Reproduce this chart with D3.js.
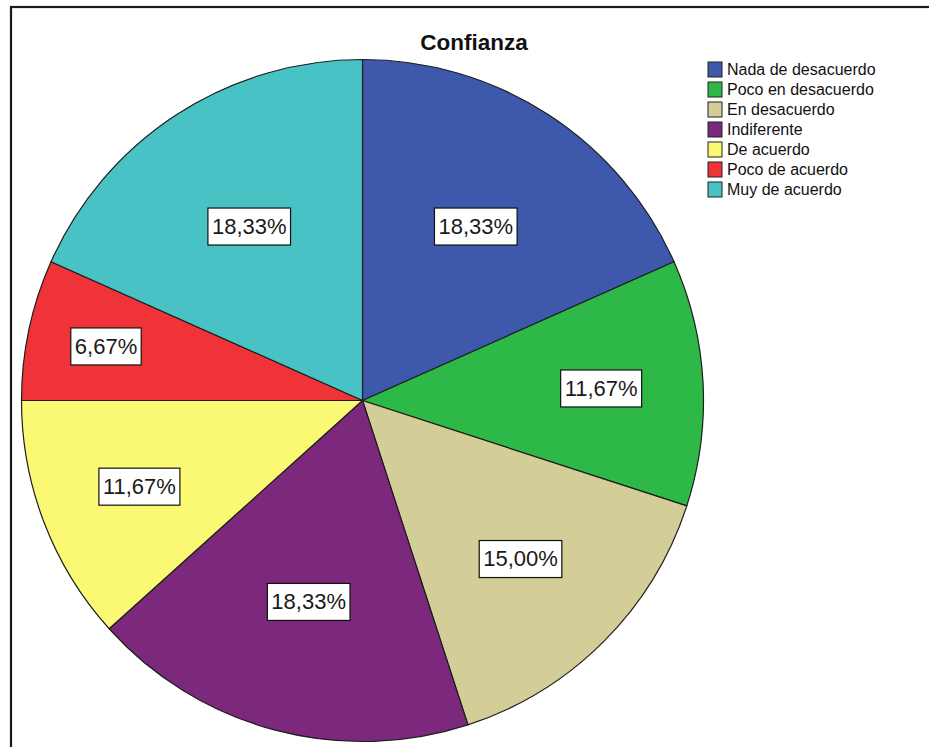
<!DOCTYPE html>
<html>
<head>
<meta charset="utf-8">
<script src="https://cdn.jsdelivr.net/npm/d3@7"></script>
<style>
  html, body { margin: 0; padding: 0; background: #fff; }
  svg { display: block; font-family: Arial, "Liberation Sans", sans-serif; }
</style>
</head>
<body>
<svg id="chart" width="929" height="747"></svg>
<script>
// Survey responses for "Confianza"
const categories = ["Nada de desacuerdo", "Poco en desacuerdo", "En desacuerdo", "Indiferente", "De acuerdo", "Poco de acuerdo", "Muy de acuerdo"];
const percents = [18.33, 11.67, 15.00, 18.33, 11.67, 6.67, 18.33];
const colors = ["#3E58AC", "#2EB848", "#D3CE97", "#7C287D", "#FBF873", "#EF3338", "#48C2C5"];
const title = "Confianza";

const svg = d3.select("#chart");
const W = 929, H = 747;

// outer frame (open to the right and bottom)
svg.append("rect")
  .attr("x", 11).attr("y", 7)
  .attr("width", W + 20).attr("height", H + 20)
  .attr("fill", "#fff")
  .attr("stroke", "#1a1a1a")
  .attr("stroke-width", 2.2);

const cx = 362.5, cy = 400.5, R = 341;

const pie = d3.pie().sort(null).value(d => d)(percents);
const arc = d3.arc().innerRadius(0).outerRadius(R);

const g = svg.append("g").attr("transform", `translate(${cx},${cy})`);

g.selectAll("path.slice")
  .data(pie)
  .join("path")
  .attr("class", "slice")
  .attr("d", arc)
  .attr("fill", (d, i) => colors[i])
  .attr("stroke", "#1e1e1e")
  .attr("stroke-width", 1.2)
  .attr("stroke-linejoin", "round");

// percentage labels in white boxes; narrower slices sit farther out
const fmt = v => v.toFixed(2).replace(".", ",") + "%";
const maxP = d3.max(percents);
const labelR = d => R * (0.61 + 0.25 * (1 - (d.data / maxP)));

const labels = g.selectAll("g.lbl")
  .data(pie)
  .join("g")
  .attr("class", "lbl")
  .attr("transform", d => {
    const a = (d.startAngle + d.endAngle) / 2;
    const r = labelR(d);
    return `translate(${Math.sin(a) * r},${-Math.cos(a) * r})`;
  });

labels.append("text")
  .attr("text-anchor", "middle")
  .attr("dy", "0.36em")
  .attr("font-size", 22)
  .attr("fill", "#1a1a1a")
  .text(d => fmt(d.data));

labels.each(function () {
  const sel = d3.select(this);
  const bb = sel.select("text").node().getBBox();
  sel.insert("rect", "text")
    .attr("x", bb.x - 4).attr("y", -18)
    .attr("width", bb.width + 8).attr("height", 37)
    .attr("fill", "#fff")
    .attr("stroke", "#111")
    .attr("stroke-width", 1.2);
});

// title
svg.append("text")
  .attr("x", 474).attr("y", 50)
  .attr("text-anchor", "middle")
  .attr("font-size", 22.5)
  .attr("font-weight", "bold")
  .attr("fill", "#111")
  .text(title);

// legend
const leg = svg.append("g").attr("transform", "translate(708,62)");
const rows = leg.selectAll("g")
  .data(categories)
  .join("g")
  .attr("transform", (d, i) => `translate(0,${i * 20})`);

rows.append("rect")
  .attr("x", 0).attr("y", 0)
  .attr("width", 14).attr("height", 15)
  .attr("fill", (d, i) => colors[i])
  .attr("stroke", "#222")
  .attr("stroke-width", 1);

rows.append("text")
  .attr("x", 19).attr("y", 7.5)
  .attr("dy", "0.36em")
  .attr("font-size", 16)
  .attr("fill", "#111")
  .text(d => d);
</script>
</body>
</html>
